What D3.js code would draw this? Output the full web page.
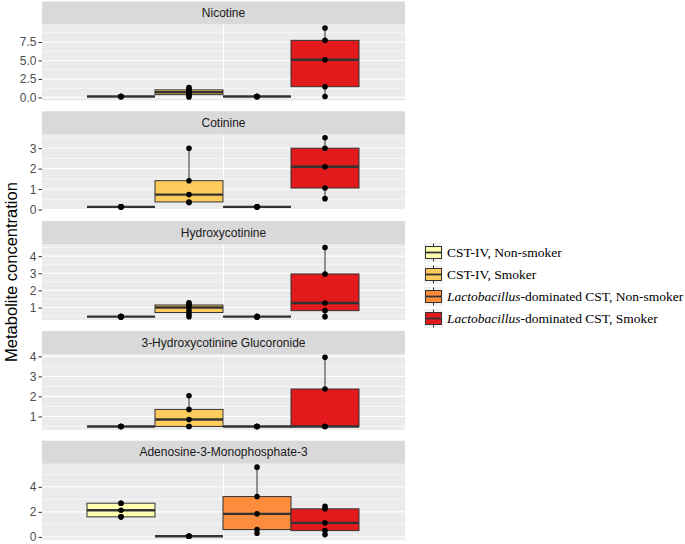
<!DOCTYPE html>
<html><head><meta charset="utf-8">
<script src="https://cdn.jsdelivr.net/npm/d3@7"></script>
<style>body{margin:0;background:#fff}</style>
</head><body><svg id="chart" width="685" height="544"></svg>
<script>
const metabolites = ["Nicotine","Cotinine","Hydroxycotinine","3-Hydroxycotinine Glucoronide","Adenosine-3-Monophosphate-3"];
const groups = ["CST-IV, Non-smoker","CST-IV, Smoker","Lactobacillus-dominated CST, Non-smoker","Lactobacillus-dominated CST, Smoker"];
const groupColors = ["#FFFFB2","#FECC5C","#FD8D3C","#E31A1C"];

// values per group (CST-IV NS, CST-IV S, Lacto NS, Lacto S)
const nicotine = [[0.12,0.12,0.12,0.12,0.12],[0.05,0.3,0.45,0.7,0.9,1.15,1.35],[0.12,0.12,0.12,0.12,0.12],[0.13,1.45,5.09,7.72,9.4]];
const cotinine = [[0.13,0.13,0.13,0.13,0.13],[0.34,0.37,0.73,1.41,3.0],[0.13,0.13,0.13,0.13,0.13],[0.53,1.05,2.09,3.0,3.51]];
const hydroxycotinine = [[0.47,0.47,0.47,0.47,0.47],[0.47,0.62,0.8,1.0,1.1,1.2,1.28],[0.47,0.47,0.47,0.47,0.47],[0.47,0.82,1.27,2.96,4.5]];
const glucoronide = [[0.5,0.5,0.5,0.5,0.5],[0.5,0.5,0.85,1.35,2.03],[0.5,0.5,0.5,0.5,0.5],[0.5,0.5,0.5,2.37,3.95]];
const adenosine = [[1.6,1.6,2.13,2.69,2.69],[0.05,0.05,0.05,0.05,0.05],[0.29,0.58,1.84,3.22,5.57],[0.18,0.5,1.12,2.24,2.45]];
const panelValues = [nicotine, cotinine, hydroxycotinine, glucoronide, adenosine];

const tickValues = [[0,2.5,5,7.5],[0,1,2,3],[1,2,3,4],[1,2,3,4],[0,2,4]];
const tickLabels = [["0.0","2.5","5.0","7.5"],["0","1","2","3"],["1","2","3","4"],["1","2","3","4"],["0","2","4"]];

const svg = d3.select("#chart");
const plotL = 42, plotR = 405;
const stripH = 23, plotH = 76, panelStep = 109.8, top0 = 1.5;
const x = d3.scaleBand().domain(groups).range([87, 359]).padding(0);
const sans = "Liberation Sans, Arial, sans-serif";

panelValues.forEach((vals, i) => {
  const stripY = top0 + i * panelStep;
  const pT = stripY + stripH, pB = pT + plotH;
  const all = vals.flat();
  const mn = d3.min(all), mx = d3.max(all), pad = (mx - mn) * 0.05;
  const y = d3.scaleLinear().domain([mn - pad, mx + pad]).range([pB, pT]);
  const g = svg.append("g");
  g.append("rect").attr("x", plotL).attr("y", pT).attr("width", plotR - plotL).attr("height", plotH).attr("fill", "#EBEBEB");
  const tv = tickValues[i];
  const step = tv[1] - tv[0];
  const minors = [];
  for (let v = tv[0] - step / 2; v <= y.domain()[1]; v += step) if (v >= y.domain()[0]) minors.push(v);
  g.selectAll(".mn").data(minors).join("line").attr("x1", plotL).attr("x2", plotR)
    .attr("y1", d => y(d)).attr("y2", d => y(d)).attr("stroke", "#fff").attr("stroke-width", 0.6);
  g.selectAll(".mj").data(tv).join("line").attr("x1", plotL).attr("x2", plotR)
    .attr("y1", d => y(d)).attr("y2", d => y(d)).attr("stroke", "#fff").attr("stroke-width", 1.1);
  g.append("line").attr("x1", (plotL + plotR) / 2).attr("x2", (plotL + plotR) / 2).attr("y1", pT).attr("y2", pB)
    .attr("stroke", "#fff").attr("stroke-width", 1.1);
  g.append("rect").attr("x", plotL).attr("y", stripY).attr("width", plotR - plotL).attr("height", stripH).attr("fill", "#D9D9D9");
  g.append("text").attr("x", (plotL + plotR) / 2).attr("y", stripY + stripH / 2).attr("dy", "0.35em")
    .attr("text-anchor", "middle").attr("font-family", sans).attr("font-size", 12)
    .attr("fill", "#1A1A1A").text(metabolites[i]);
  const axis = d3.axisLeft(y).tickValues(tv).tickFormat((d, k) => tickLabels[i][k]).tickSize(3.5).tickPadding(2);
  const ag = g.append("g").attr("transform", `translate(${plotL},0)`).call(axis);
  ag.select(".domain").remove();
  ag.selectAll(".tick line").attr("stroke", "#333").attr("stroke-width", 1);
  ag.selectAll(".tick text").attr("fill", "#4D4D4D").attr("font-family", sans).attr("font-size", 12).attr("dy", "0.33em");
  vals.forEach((v, j) => {
    const s = v.slice().sort(d3.ascending);
    const q1 = d3.quantile(s, 0.25), md = d3.quantile(s, 0.5), q3 = d3.quantile(s, 0.75);
    const lo = s[0], hi = s[s.length - 1];
    const bx = x(groups[j]), bw = x.bandwidth(), cx = bx + bw / 2;
    g.append("line").attr("x1", cx).attr("x2", cx).attr("y1", y(hi)).attr("y2", y(q3)).attr("stroke", "#333").attr("stroke-width", 1);
    g.append("line").attr("x1", cx).attr("x2", cx).attr("y1", y(q1)).attr("y2", y(lo)).attr("stroke", "#333").attr("stroke-width", 1);
    g.append("rect").attr("x", bx).attr("y", y(q3)).attr("width", bw).attr("height", Math.max(0, y(q1) - y(q3)))
      .attr("fill", groupColors[j]).attr("stroke", "#333").attr("stroke-width", 1);
    g.append("line").attr("x1", bx).attr("x2", bx + bw).attr("y1", y(md)).attr("y2", y(md)).attr("stroke", "#333").attr("stroke-width", 2.4);
    g.selectAll(null).data(s).join("circle").attr("cx", cx).attr("cy", d => y(d)).attr("r", 2.8).attr("fill", "#000");
  });
});

svg.append("text").attr("transform", "translate(11,272) rotate(-90)").attr("text-anchor", "middle").attr("dy", "0.35em")
  .attr("font-family", sans).attr("font-size", 16.5).attr("fill", "#000").text("Metabolite concentration");

const lg = svg.append("g");
groups.forEach((gname, j) => {
  const cy = 252.5 + j * 22;
  lg.append("rect").attr("x", 424).attr("y", cy - 9.5).attr("width", 19).attr("height", 19).attr("fill", "#F2F2F2");
  lg.append("line").attr("x1", 433.5).attr("x2", 433.5).attr("y1", cy - 9).attr("y2", cy + 9).attr("stroke", "#333").attr("stroke-width", 1);
  lg.append("rect").attr("x", 425.5).attr("y", cy - 6).attr("width", 16).attr("height", 12).attr("fill", groupColors[j]).attr("stroke", "#333").attr("stroke-width", 1);
  lg.append("line").attr("x1", 425.5).attr("x2", 441.5).attr("y1", cy).attr("y2", cy).attr("stroke", "#333").attr("stroke-width", 1.8);
  const t = lg.append("text").attr("x", 447).attr("y", cy).attr("dy", "0.35em")
    .attr("font-family", "Liberation Serif, Times New Roman, serif").attr("font-size", 13.5).attr("fill", "#000");
  if (gname.startsWith("Lactobacillus")) {
    t.append("tspan").attr("font-style", "italic").text("Lactobacillus");
    t.append("tspan").text(gname.slice("Lactobacillus".length));
  } else t.text(gname);
});
</script></body></html>
